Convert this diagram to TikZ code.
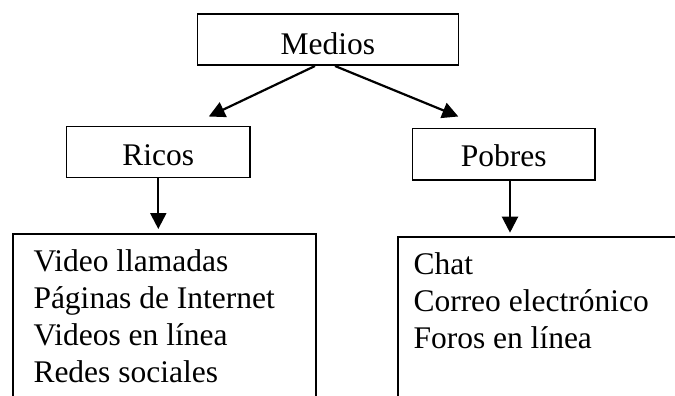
\documentclass[tikz,border=0pt]{standalone}
\usepackage{fontspec}
\setmainfont{Liberation Serif}
\usetikzlibrary{arrows.meta}
\begin{document}
\begin{tikzpicture}[x=1pt,y=-1pt,
  every node/.style={font=\fontsize{31.5}{37.2}\selectfont},
  boxnode/.style={draw=black,line width=1.5pt,inner sep=0pt,rectangle},
  listtext/.style={inner sep=0pt,anchor=base west},
  arr/.style={line width=2.2pt,-{Triangle[length=16pt,width=16pt]}}]
\useasboundingbox (0,0) rectangle (675,396);
\clip (0,0) rectangle (675,396);
% top-level boxes
\node[boxnode,minimum width=261pt,text height=40pt,text depth=10.7pt] (medios) at (327.8,39.6) {Medios};
\node[boxnode,minimum width=183.3pt,text height=38.3pt,text depth=12.7pt] (ricos) at (158.3,152.2) {Ricos};
\node[boxnode,minimum width=182.3pt,text height=38.4pt,text depth=13.3pt] (pobres) at (503.8,154.1) {Pobres};
% lower boxes (extend past the picture edge)
\node[boxnode,anchor=north west,minimum width=302.7pt,minimum height=200pt] (lbox) at (12.3,233.3) {};
\node[boxnode,anchor=north west,minimum width=320pt,minimum height=200pt] (rbox) at (397.3,236) {};
\node[listtext] (ltext) at (33.3,271) {\begin{tabular}[t]{@{}l@{}}Video llamadas\\ Páginas de Internet\\ Videos en línea\\ Redes sociales\end{tabular}};
\node[listtext] (rtext) at (413.3,274.3) {\begin{tabular}[t]{@{}l@{}}Chat\\ Correo electrónico\\ Foros en línea\end{tabular}};
% arrow tips
\coordinate (t1) at (208.8,116.5);
\coordinate (t2) at (458.3,116.5);
\coordinate (t3) at (158.3,229);
\coordinate (t4) at (510,232.7);
\coordinate (s1) at (315,66);
\coordinate (s2) at (335,66);
\coordinate (s4) at (510,180);
\draw[arr] (s1) -- (t1);
\draw[arr] (s2) -- (t2);
\draw[arr] (ricos.south) -- (t3);
\draw[arr] (s4) -- (t4);
\end{tikzpicture}
\end{document}
